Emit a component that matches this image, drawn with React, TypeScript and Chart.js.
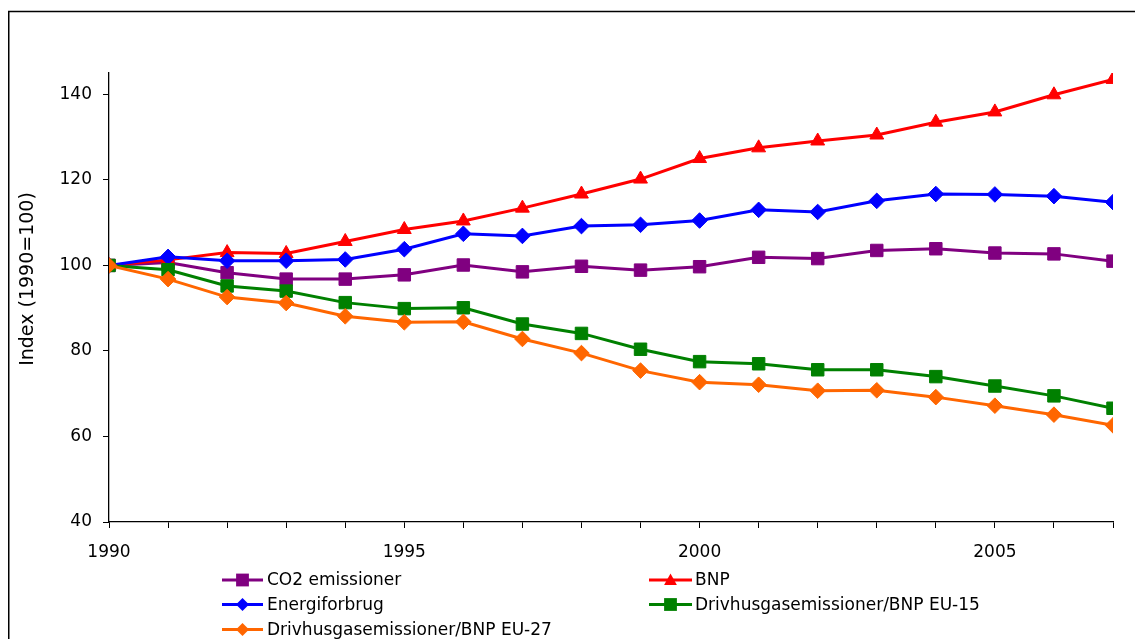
import React, { useEffect, useRef } from "react";
import { Chart, registerables } from "chart.js";

Chart.register(...registerables);

const years = [1990, 1991, 1992, 1993, 1994, 1995, 1996, 1997, 1998, 1999, 2000, 2001, 2002, 2003, 2004, 2005, 2006, 2007];
const xTickLabels = [1990, 1995, 2000, 2005];
const yTickValues = [40, 60, 80, 100, 120, 140];

const co2 = [100, 100.7, 98.3, 96.8, 96.8, 97.8, 100.1, 98.5, 99.8, 98.9, 99.7, 101.9, 101.6, 103.5, 103.9, 102.9, 102.7, 101.0];
const bnp = [100, 101.3, 103.0, 102.8, 105.6, 108.4, 110.4, 113.4, 116.7, 120.2, 125.0, 127.5, 129.1, 130.5, 133.5, 135.9, 139.9, 143.5];
const energi = [100, 102.0, 101.1, 101.1, 101.4, 103.8, 107.4, 106.9, 109.2, 109.5, 110.5, 113.0, 112.5, 115.1, 116.7, 116.6, 116.2, 114.8];
const eu15 = [100, 99.0, 95.2, 94.0, 91.3, 89.9, 90.1, 86.3, 84.1, 80.4, 77.5, 77.0, 75.6, 75.6, 74.0, 71.8, 69.5, 66.6];
const eu27 = [100, 96.8, 92.6, 91.2, 88.1, 86.7, 86.8, 82.8, 79.5, 75.4, 72.7, 72.1, 70.7, 70.8, 69.2, 67.2, 65.1, 62.6];

const seriesNames = [
  "CO2 emissioner",
  "BNP",
  "Energiforbrug",
  "Drivhusgasemissioner/BNP EU-15",
  "Drivhusgasemissioner/BNP EU-27",
];
const seriesValues = [co2, bnp, energi, eu15, eu27];
const seriesColors = ["#800080", "#FF0000", "#0000FF", "#008000", "#FF6600"];
const seriesMarkers = ["rect", "triangle", "rectRot", "rect", "rectRot"];
const yTitle = "Index (1990=100)";

const FONT = "'DejaVu Sans', Verdana, sans-serif";

function drawMarker(ctx: CanvasRenderingContext2D, style: string, x: number, y: number, color: string) {
  ctx.fillStyle = color;
  ctx.beginPath();
  if (style === "rect") {
    const s = 6.4;
    ctx.rect(x - s, y - s, 2 * s, 2 * s);
  } else if (style === "triangle") {
    const w = 6.4;
    ctx.moveTo(x, y - 6.5);
    ctx.lineTo(x + w, y + 5);
    ctx.lineTo(x - w, y + 5);
    ctx.closePath();
  } else {
    const r = 6.5;
    ctx.moveTo(x, y - r);
    ctx.lineTo(x + r, y);
    ctx.lineTo(x, y + r);
    ctx.lineTo(x - r, y);
    ctx.closePath();
  }
  ctx.fill();
}

const decorPlugin = {
  id: "decor",
  afterDraw(chart: any) {
    const ctx: CanvasRenderingContext2D = chart.ctx;
    ctx.save();
    ctx.strokeStyle = "#000";
    ctx.lineWidth = 1.5;
    ctx.beginPath();
    ctx.moveTo(0.75, chart.height + 5);
    ctx.lineTo(0.75, 3.5);
    ctx.lineTo(chart.width + 5, 3.5);
    ctx.stroke();

    ctx.save();
    ctx.translate(20, 271);
    ctx.rotate(-Math.PI / 2);
    ctx.fillStyle = "#000";
    ctx.font = `19px ${FONT}`;
    ctx.textAlign = "center";
    ctx.textBaseline = "middle";
    ctx.fillText(yTitle, 0, 0);
    ctx.restore();

    const cols = [
      { x1: 214, x2: 255, tx: 259 },
      { x1: 641, x2: 684, tx: 687 },
    ];
    const rows = [572, 596.5, 621.5];
    ctx.font = `17px ${FONT}`;
    ctx.textAlign = "left";
    ctx.textBaseline = "middle";
    seriesNames.forEach((name, i) => {
      const c = cols[i % 2];
      const y = rows[Math.floor(i / 2)];
      ctx.strokeStyle = seriesColors[i];
      ctx.lineWidth = 3;
      ctx.beginPath();
      ctx.moveTo(c.x1, y);
      ctx.lineTo(c.x2, y);
      ctx.stroke();
      drawMarker(ctx, seriesMarkers[i], (c.x1 + c.x2) / 2, y, seriesColors[i]);
      ctx.fillStyle = "#000";
      ctx.fillText(name, c.tx, y + 1);
    });
    ctx.restore();
  },
};

export default function App() {
  const canvasRef = useRef<HTMLCanvasElement | null>(null);

  useEffect(() => {
    if (!canvasRef.current) return;
    const datasets = seriesNames.map((name, i) => {
      const marker = seriesMarkers[i];
      const radius = marker === "rect" ? 8.8 : marker === "triangle" ? 8 : 7.8;
      return {
        label: name,
        data: years.map((yr, j) => ({ x: yr, y: seriesValues[i][j] })),
        borderColor: seriesColors[i],
        backgroundColor: seriesColors[i],
        pointBackgroundColor: seriesColors[i],
        pointBorderColor: seriesColors[i],
        pointBorderWidth: 1,
        pointStyle: marker,
        pointRadius: radius,
        borderWidth: 3,
        tension: 0,
        order: 5 - i,
      };
    });

    const chart = new Chart(canvasRef.current, {
      type: "line",
      data: { datasets: datasets as any },
      options: {
        animation: false,
        responsive: true,
        maintainAspectRatio: false,
        layout: { padding: { left: 0, top: 65, right: 22, bottom: 77 } },
        plugins: {
          legend: { display: false },
          tooltip: { enabled: false },
        },
        scales: {
          x: {
            type: "linear",
            min: years[0],
            max: years[years.length - 1],
            afterFit: (scale: any) => {
              scale.height = 40;
            },
            ticks: {
              stepSize: 1,
              autoSkip: false,
              maxRotation: 0,
              padding: 14,
              color: "#000",
              font: { family: FONT, size: 17 },
              callback: (v: any) => (xTickLabels.includes(Number(v)) ? String(v) : ""),
            },
            grid: {
              drawOnChartArea: false,
              drawTicks: true,
              tickLength: 6,
              tickColor: "#000",
            },
            border: { color: "#000", width: 1.3 },
          },
          y: {
            type: "linear",
            min: 40,
            max: 145,
            afterFit: (scale: any) => {
              scale.width = 101;
            },
            afterBuildTicks: (scale: any) => {
              scale.ticks = yTickValues.map((v) => ({ value: v }));
            },
            ticks: {
              padding: 11,
              color: "#000",
              font: { family: FONT, size: 17 },
            },
            grid: {
              drawOnChartArea: false,
              drawTicks: true,
              tickLength: 6,
              tickColor: "#000",
            },
            border: { color: "#000", width: 1.3 },
          },
        },
      },
      plugins: [decorPlugin],
    });
    return () => chart.destroy();
  }, []);

  return (
    <div style={{ position: "fixed", left: 8, top: 8, width: 1127, height: 631, background: "#fff" }}>
      <canvas ref={canvasRef} />
    </div>
  );
}
